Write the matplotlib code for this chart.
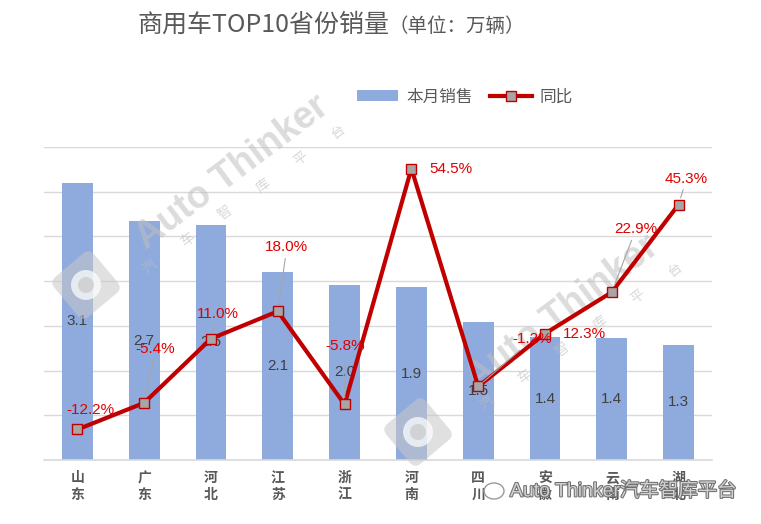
import matplotlib
matplotlib.use("Agg")
import matplotlib.pyplot as plt
import matplotlib.patches as mpatches
import matplotlib.patheffects as pe
from matplotlib.lines import Line2D
from matplotlib.transforms import Affine2D, IdentityTransform
import numpy as np

plt.rcParams['font.family'] = ['Liberation Sans', 'Noto Sans CJK SC', 'DejaVu Sans']

# ---------------- data ----------------
provinces = ["山东", "广东", "河北", "江苏", "浙江", "河南", "四川", "安徽", "云南", "湖北"]
sales = [3.10, 2.67, 2.63, 2.10, 1.96, 1.93, 1.54, 1.37, 1.36, 1.29]      # 万辆
yoy = [-12.2, -5.4, 11.0, 18.0, -5.8, 54.5, -1.2, 12.3, 22.9, 45.3]        # %
series_names = ["本月销售", "同比"]
title_main = "商用车TOP10省份销量"
title_unit = "（单位：万辆）"

# label offsets (pixels) for the YoY labels, and whether a leader line is drawn
yoy_offsets = [(13, 19), (11, 54), (7, 25), (9, 64), (1, 58),
               (40, 0), (54, 47), (39, 0), (24, 63), (8, 26)]
yoy_leader = [False, True, True, True, True, False, True, False, True, True]

BAR = "#8FAADC"
RED = "#C00000"
LABEL_RED = "#E00000"
GRID = "#D9D9D9"
TXT = "#595959"

W, H = 761, 524
fig = plt.figure(figsize=(W / 100, H / 100), dpi=100)
ax = fig.add_axes([44 / W, (H - 460) / H, (712 - 44) / W, (460 - 147) / H])
x = np.arange(len(provinces))

ax.bar(x, sales, width=0.46, color=BAR, zorder=2)
ax.set_xlim(-0.5, len(provinces) - 0.5)
ax.set_ylim(0, 3.5)
ax.set_yticks(np.arange(0, 3.51, 0.5))
ax.yaxis.grid(True, color=GRID, lw=1)
ax.set_axisbelow(True)
for s in ["top", "right", "left"]:
    ax.spines[s].set_visible(False)
ax.spines["bottom"].set_color(GRID)
ax.spines["bottom"].set_linewidth(1.2)
ax.set_xticks(x)
ax.set_xticklabels(["\n".join(p) for p in provinces], fontsize=10, color=TXT,
                   family=['Noto Sans CJK SC'], fontweight='bold', linespacing=1.25)
ax.tick_params(axis='x', length=0, pad=8)

for xi, v in zip(x, sales):
    ax.text(xi, v / 2, f"{v:.1f}", ha='center', va='center', fontsize=11,
            color="#404040", zorder=3)

# ---------------- watermarks ----------------
wm_color = "#BFBFBF"
def wm_big(cx, cy):
    ax.text(cx / W, 1 - cy / H, "Auto Thinker", transform=fig.transFigure,
            fontsize=27, fontweight='bold', color=wm_color, alpha=0.55,
            rotation=37, ha='center', va='center', rotation_mode='anchor', zorder=4)
def wm_small(p0, p1):
    chars = "汽车智库平台"
    for k, ch in enumerate(chars):
        t = k / (len(chars) - 1)
        px = p0[0] + (p1[0] - p0[0]) * t
        py = p0[1] + (p1[1] - p0[1]) * t
        ax.text(px / W, 1 - py / H, ch, transform=fig.transFigure, fontsize=10,
                color=wm_color, alpha=0.6, rotation=37, ha='center', va='center',
                family=['Noto Sans CJK SC'], zorder=4)
def wm_logo(cx, cy):
    tr = Affine2D().rotate_deg_around(cx, H - cy, 40) + IdentityTransform()
    box = mpatches.FancyBboxPatch((cx - 24, H - cy - 24), 48, 48,
                                  boxstyle="round,pad=2,rounding_size=8",
                                  facecolor="#C8C8C8", edgecolor='none', alpha=0.55,
                                  transform=tr, zorder=4)
    fig.add_artist(box)
    circ = mpatches.Circle((cx, H - cy), 15, facecolor='white', edgecolor='none',
                           alpha=0.7, transform=IdentityTransform(), zorder=4)
    fig.add_artist(circ)
    circ2 = mpatches.Circle((cx, H - cy), 8, facecolor="#C8C8C8", edgecolor='none',
                            alpha=0.7, transform=IdentityTransform(), zorder=4)
    fig.add_artist(circ2)

wm_big(232, 172)
wm_small((150, 267), (338, 132))
wm_big(562, 312)
wm_small((487, 403), (675, 270))
wm_logo(86, 285)
wm_logo(418, 432)

# ---------------- secondary axis: YoY line ----------------
ax2 = ax.twinx()
ax2.set_ylim(-20, 60)
ax2.axis('off')
ax.tick_params(axis='y', which='both', left=False, right=False,
               labelleft=False, labelright=False)
ax2.plot(x, yoy, color=RED, lw=3, marker='s', markersize=7.5,
         markerfacecolor="#A6A6A6", markeredgecolor=RED, markeredgewidth=1, zorder=5)
for xi, v, off, lead in zip(x, yoy, yoy_offsets, yoy_leader):
    ap = dict(arrowstyle='-', color="#A6A6A6", lw=0.8, shrinkA=1, shrinkB=5) if lead else None
    ax2.annotate(f"{v:.1f}%", xy=(xi, v), xytext=off, textcoords='offset pixels',
                 ha='center', va='center', fontsize=11, color=LABEL_RED,
                 arrowprops=ap, zorder=6)

# ---------------- legend ----------------
handles = [mpatches.Patch(facecolor=BAR, edgecolor='none'),
           Line2D([0], [0], color=RED, lw=3, marker='s', markersize=7.5,
                  markerfacecolor="#A6A6A6", markeredgecolor=RED)]
leg = fig.legend(handles, series_names, loc='center', bbox_to_anchor=(465 / W, 1 - 97 / H),
                 ncol=2, frameon=False, handlelength=2.5, handleheight=0.6,
                 columnspacing=1.0, handletextpad=0.5,
                 prop={'family': ['Noto Sans CJK SC'], 'size': 12})
for t in leg.get_texts():
    t.set_color(TXT)

# ---------------- title ----------------
fig.text(137 / W, 1 - 25 / H, title_main, fontsize=18, color=TXT,
         family=['Noto Sans CJK SC'], ha='left', va='center')
fig.text(388 / W, 1 - 26 / H, title_unit, fontsize=14, color=TXT,
         family=['Noto Sans CJK SC'], ha='left', va='center')

# ---------------- bottom-right overlay ----------------
bub = mpatches.Ellipse((494, H - 491), 20, 16, facecolor='none', edgecolor="#9A9A9A",
                       lw=1, transform=IdentityTransform(), zorder=10)
fig.add_artist(bub)
fig.text(510 / W, 1 - 491 / H, "Auto Thinker汽车智库平台", fontsize=14,
         color="#D0D0D0", ha='left', va='center', zorder=10,
         path_effects=[pe.withStroke(linewidth=1.5, foreground="#707070")])

fig.savefig("out.png", dpi=100)
